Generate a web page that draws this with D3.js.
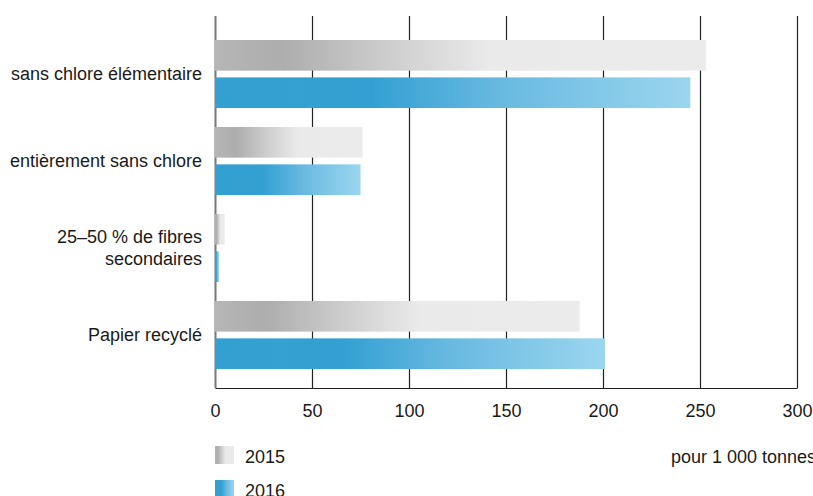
<!DOCTYPE html>
<html><head><meta charset="utf-8">
<script src="https://cdn.jsdelivr.net/npm/d3@7/dist/d3.min.js"></script>
<style>
body{margin:0;background:#fff;}
text{font-family:"Liberation Sans",Arial,sans-serif;fill:#1a1a1a;}
</style></head>
<body><svg id="c" width="813" height="496"></svg>
<script>
const categories = ["sans chlore élémentaire","entièrement sans chlore","25–50 % de fibres|secondaires","Papier recyclé"];
const series = ["2015","2016"];
const values2015 = [253, 76, 5, 188];
const values2016 = [245, 75, 2, 201];
const tickValues = [0,50,100,150,200,250,300];
const unitLabel = "pour 1 000 tonnes";

const svg = d3.select("#c");
const FS = 18;
const x0 = 215, x1 = 797, yTop = 16, yBot = 388;
const x = d3.scaleLinear().domain([0,300]).range([x0,x1]);
const y = d3.scaleBand().domain(categories).range([40,369]).paddingInner(0.218).paddingOuter(0);
const ys = d3.scaleBand().domain(series).range([0,y.bandwidth()]).paddingInner(0.18).paddingOuter(0);

const defs = svg.append("defs");
const gGrey = defs.append("linearGradient").attr("id","gGrey").attr("x1","0").attr("x2","1").attr("y1","0").attr("y2","0");
[[0,"#b6b6b6"],[0.14,"#adadad"],[0.35,"#cdcdcd"],[0.56,"#eaeaea"],[1,"#ebebeb"]].forEach(s=>gGrey.append("stop").attr("offset",s[0]).attr("stop-color",s[1]));
const gBlue = defs.append("linearGradient").attr("id","gBlue").attr("x1","0").attr("x2","1").attr("y1","0").attr("y2","0");
[[0,"#34a0d2"],[0.33,"#33a0d3"],[0.6,"#68b9e0"],[1,"#9bd6ef"]].forEach(s=>gBlue.append("stop").attr("offset",s[0]).attr("stop-color",s[1]));
const fills = {"2015":"url(#gGrey)","2016":"url(#gBlue)"};

// grid + axis
const ax = svg.append("g").attr("transform",`translate(0,${yBot})`)
  .call(d3.axisBottom(x).tickValues(tickValues).tickSize(-(yBot-yTop)).tickSizeOuter(0).tickPadding(16));
ax.select(".domain").attr("stroke","#222").attr("stroke-width",1.2);
ax.selectAll(".tick line").attr("stroke","#222").attr("stroke-width",1.2);
ax.selectAll(".tick text").attr("font-size",FS).attr("fill","#1a1a1a").style("font-family",'"Liberation Sans",Arial,sans-serif');
ax.selectAll(".tick").filter(d=>d===0).select("line").attr("stroke","#777").attr("stroke-width",2);

// bars
const rows = categories.map((c,i)=>({c, v:{"2015":values2015[i],"2016":values2016[i]}}));
const grp = svg.append("g").selectAll("g").data(rows).join("g").attr("transform",d=>`translate(0,${y(d.c)})`);
grp.selectAll("rect").data(d=>series.map(s=>({s,v:d.v[s]}))).join("rect")
  .attr("x",x(0)).attr("y",d=>ys(d.s)).attr("height",ys.bandwidth())
  .attr("width",d=>x(d.v)-x(0)).attr("fill",d=>fills[d.s]);

// category labels
rows.forEach(d=>{
  const lines = d.c.split("|");
  const cy = y(d.c)+y.bandwidth()/2;
  const lh = 22;
  const t = svg.append("text").attr("text-anchor","end").attr("font-size",FS);
  lines.forEach((l,i)=>{
    t.append("tspan").attr("x",202).attr("y",cy + (i-(lines.length-1)/2)*lh + FS*0.35).text(l);
  });
});

// legend
const lg = svg.append("g").selectAll("g").data(series).join("g")
  .attr("transform",(d,i)=>`translate(215,${446+i*34})`);
lg.append("rect").attr("width",19).attr("height",18).attr("fill",d=>fills[d]);
lg.append("text").attr("x",30).attr("y",17).attr("font-size",FS).text(d=>d);

svg.append("text").attr("x",816).attr("y",463).attr("text-anchor","end").attr("font-size",FS).text(unitLabel);
</script></body></html>
